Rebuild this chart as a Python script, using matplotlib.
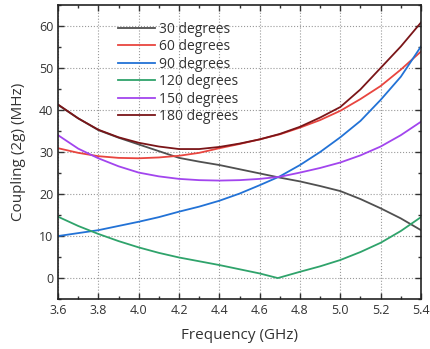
import matplotlib
matplotlib.use("Agg")
import matplotlib.pyplot as plt
from matplotlib.ticker import MultipleLocator

plt.rcParams['font.family'] = ['Open Sans', 'DejaVu Sans']

freq = [3.6, 3.7, 3.8, 3.9, 4.0, 4.1, 4.2, 4.3, 4.4, 4.5, 4.6, 4.7, 4.8, 4.9, 5.0, 5.1, 5.2, 5.3, 5.4]
deg30 = [41.2, 38.0, 35.2, 33.4, 31.8, 30.2, 28.6, 27.7, 26.9, 25.9, 24.9, 23.9, 23.0, 21.9, 20.7, 18.8, 16.6, 14.2, 11.4]
deg60 = [30.9, 29.8, 29.0, 28.6, 28.5, 28.7, 29.1, 29.8, 30.9, 31.9, 33.0, 34.2, 35.8, 37.6, 39.8, 42.6, 45.7, 49.6, 53.9]
deg90 = [10.0, 10.7, 11.4, 12.4, 13.4, 14.5, 15.8, 17.0, 18.4, 20.1, 22.1, 24.2, 26.9, 30.0, 33.5, 37.4, 42.4, 47.9, 55.1]
freq120 = [3.6, 3.7, 3.8, 3.9, 4.0, 4.1, 4.2, 4.3, 4.4, 4.5, 4.6, 4.69, 4.8, 4.9, 5.0, 5.1, 5.2, 5.3, 5.4]
deg120 = [14.6, 12.4, 10.5, 8.8, 7.3, 6.0, 4.9, 4.0, 3.1, 2.1, 1.1, 0.0, 1.5, 2.8, 4.3, 6.2, 8.4, 11.2, 14.5]
deg150 = [34.0, 30.8, 28.5, 26.6, 25.1, 24.2, 23.6, 23.3, 23.2, 23.3, 23.6, 24.1, 25.1, 26.2, 27.5, 29.2, 31.3, 34.0, 37.2]
deg180 = [41.3, 38.0, 35.3, 33.5, 32.2, 31.3, 30.7, 30.7, 31.2, 32.0, 33.0, 34.3, 36.0, 38.2, 40.7, 44.9, 50.0, 55.1, 60.8]

labels = ['30 degrees', '60 degrees', '90 degrees', '120 degrees', '150 degrees', '180 degrees']
colors = ['#505050', '#e8453f', '#2272d6', '#2fa36b', '#a245ee', '#7a1518']

fig = plt.figure(figsize=(4.30, 3.49), dpi=100)
ax = fig.add_axes([0.135, 0.143, 0.844, 0.843])

series = [(freq, deg30), (freq, deg60), (freq, deg90), (freq120, deg120), (freq, deg150), (freq, deg180)]
for (x, y), lab, c in zip(series, labels, colors):
    ax.plot(x, y, color=c, lw=1.3, label=lab)

ax.set_xlim(3.6, 5.4)
ax.set_ylim(-5, 65)
ax.xaxis.set_major_locator(MultipleLocator(0.2))
ax.xaxis.set_minor_locator(MultipleLocator(0.1))
ax.yaxis.set_major_locator(MultipleLocator(10))
ax.yaxis.set_minor_locator(MultipleLocator(5))
ax.tick_params(which='both', direction='in', top=True, right=True, labelsize=9, colors='#333333', labelcolor='#333333')
ax.tick_params(which='major', length=4, width=1)
ax.tick_params(which='minor', length=2.5, width=1)
ax.set_xticks([3.6, 3.8, 4.0, 4.2, 4.4, 4.6, 4.8, 5.0, 5.2, 5.4])
ax.set_xticklabels(['3.6', '3.8', '4.0', '4.2', '4.4', '4.6', '4.8', '5.0', '5.2', '5.4'])
ax.grid(True, which='major', linestyle=':', color='#999999', lw=0.8)
for s in ax.spines.values():
    s.set_linewidth(1.2)
    s.set_color('#222222')

ax.set_xlabel('Frequency (GHz)', fontsize=11, color='#333333', labelpad=8)
ax.set_ylabel('Coupling (2g) (MHz)', fontsize=11, color='#333333', labelpad=9)

leg = ax.legend(loc='upper left', bbox_to_anchor=(0.13, 0.985), frameon=False, fontsize=10,
                handlelength=2.7, handletextpad=0.25, labelspacing=0.18, borderaxespad=0.5)
for t in leg.get_texts():
    t.set_color('#333333')

fig.savefig('out.png', dpi=100)
